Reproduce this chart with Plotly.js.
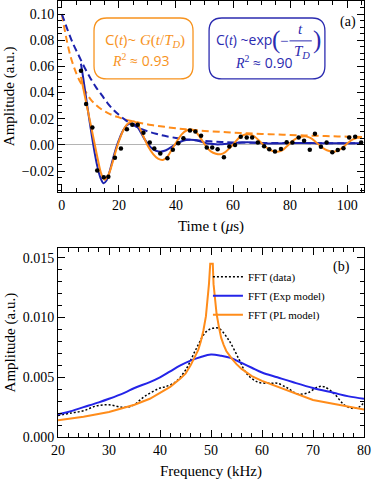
<!DOCTYPE html>
<html>
<head>
<meta charset="utf-8">
<script src="https://cdn.plot.ly/plotly-3.0.1.min.js"></script>
<style>
  body { margin: 0; background: #fff; }
  #myDiv { width: 373px; height: 480px; }
</style>
</head>
<body>
<div id="myDiv"></div>
<script>
// ---- panel (a): time domain ----
var tData = [6.7, 8.5, 10.7, 12.4, 14.7, 16.3, 18.6, 20.7, 22.8, 24.7, 26.6, 28.6, 30.8, 32.4, 34.5,
  37.0, 38.9, 40.8, 42.6, 44.9, 46.8, 48.8, 50.8, 52.7, 54.6, 56.8, 58.7, 60.7, 62.7, 64.8,
  66.7, 68.7, 70.9, 72.7, 74.7, 76.8, 78.8, 80.8, 83.0, 84.9, 86.9, 88.7, 90.8, 92.8, 94.8,
  96.7, 98.7, 100.7, 102.8, 104.9];
var ampData = [0.0567, 0.0313, 0.0132, -0.0196, -0.0247, -0.0244, -0.0099, -0.0028, 0.0120, 0.0153,
  0.0153, 0.0092, 0.0018, -0.0028, -0.0066, -0.0102, -0.0038, 0.0013, 0.0051, 0.0109,
  0.0102, 0.0069, -0.0020, -0.0020, -0.0033, -0.0094, -0.0013, 0.0000, 0.0063, 0.0056,
  0.0056, 0.0018, -0.0010, -0.0033, -0.0051, -0.0031, 0.0021, 0.0018, 0.0056, 0.0031,
  -0.0038, 0.0086, -0.0015, 0.0018, -0.0056, -0.0040, -0.0025, 0.0056, 0.0063, 0.0018];

// PL (power-law) model fit
var tPL = [6.7, 8, 9.5, 11, 12.5, 13.8, 15, 16.3, 17.7, 19, 20.2, 21.5, 23, 24.5, 25.5, 27, 28.5,
  30.2, 32, 33.7, 35.4, 37, 38.7, 40.4, 42, 43.7, 45.4, 47, 48.7, 50.5, 52.2, 54, 55.6, 57.3,
  59, 60.7, 62.3, 64, 65.6, 67.3, 69, 70.7, 72.3, 74, 75.5, 77.2, 78.9, 80.6, 82.2, 83.8,
  85.4, 87.1, 88.7, 90.4, 92.1, 93.7, 95.3, 97, 98.7, 100.4, 102, 103.6, 105.2];
var ampPL = [0.052, 0.038, 0.022, 0.006, -0.010, -0.022, -0.0267, -0.023, -0.014, -0.004, 0.004,
  0.011, 0.016, 0.0178, 0.0178, 0.014, 0.007, -0.001, -0.007, -0.0105, -0.0115, -0.009, -0.003,
  0.003, 0.008, 0.011, 0.0117, 0.0098, 0.005, -0.001, -0.005, -0.0068, -0.0072, -0.0055,
  -0.002, 0.002, 0.0058, 0.0078, 0.0082, 0.0068, 0.0035, 0.0, -0.003, -0.0048, -0.0052,
  -0.0042, -0.001, 0.0025, 0.005, 0.0062, 0.0065, 0.0053, 0.0028, -0.0005, -0.0032,
  -0.0047, -0.0052, -0.0042, -0.0015, 0.0018, 0.0042, 0.0054, 0.0057];

// exponential model fit
var tExp = [6.7, 7.5, 8.5, 9.5, 10.5, 11.5, 12.5, 13.5, 14.6, 15.7, 16.8, 18, 19.2, 20.4, 21.6,
  22.8, 24, 25.2, 26.5, 27.8, 29.1, 30.4, 31.7, 33, 34.6, 36, 37.5, 39, 40.5, 42, 43.5, 45,
  46.5, 48, 50, 52, 54, 55.5, 57, 59, 61, 63, 65, 67, 69, 71, 73, 75, 78, 82, 86, 90, 95,
  100, 105.2];
var ampExp = [0.062, 0.051, 0.036, 0.021, 0.007, -0.006, -0.017, -0.025, -0.0293, -0.027, -0.020,
  -0.010, -0.001, 0.006, 0.0115, 0.015, 0.0163, 0.016, 0.0135, 0.009, 0.004, 0.0, -0.003,
  -0.0045, -0.0052, -0.0045, -0.0028, -0.0008, 0.0012, 0.0028, 0.0037, 0.004, 0.0037, 0.003,
  0.0017, 0.0008, 0.0004, 0.0004, 0.0006, 0.001, 0.0015, 0.0019, 0.002, 0.0019, 0.0016,
  0.0013, 0.0011, 0.0011, 0.0012, 0.0014, 0.0014, 0.0013, 0.0013, 0.0013, 0.0013];

// envelopes (dashed)
var tEnvPL = [0, 1, 2, 3, 4, 5, 6, 7, 8, 10, 12, 14, 16, 18, 20, 22, 25, 28, 32, 36, 40, 45, 50,
  55, 60, 65, 70, 75, 80, 85, 90, 95, 100, 105.2];
var envPL = [0.1, 0.088, 0.077, 0.068, 0.061, 0.055, 0.050, 0.046, 0.042, 0.035, 0.0305, 0.027,
  0.0245, 0.0225, 0.021, 0.0195, 0.018, 0.0165, 0.015, 0.0138, 0.0127, 0.0116, 0.0107,
  0.010, 0.0094, 0.0089, 0.0084, 0.008, 0.0076, 0.0072, 0.0069, 0.0066, 0.0063, 0.006];
var tEnvExp = [0, 2, 4, 6, 8, 10, 12, 14, 16, 18, 20, 22, 24, 26, 28, 30, 33, 36, 40, 44, 48, 52,
  56, 60, 65, 70, 80, 90, 105.2];
var envExp = [0.1, 0.088, 0.077, 0.068, 0.059, 0.051, 0.044, 0.038, 0.032, 0.027, 0.023, 0.0195,
  0.0165, 0.014, 0.012, 0.0104, 0.0085, 0.0069, 0.0053, 0.0041, 0.0033, 0.0027, 0.0022,
  0.0019, 0.0017, 0.0015, 0.0014, 0.0013, 0.0013];

// ---- panel (b): spectra ----
var fData = [20, 22.5, 25, 27.5, 30, 32.5, 34.5, 37, 40, 41, 43, 45, 47, 49, 50.3, 51.5, 53.5,
  55.5, 57, 59.2, 61.8, 63, 65, 67, 69, 71, 72.2, 74.2, 76.1, 77.7, 79, 80];
var fftData = [0.0018, 0.0020, 0.0022, 0.0026, 0.0027, 0.0025, 0.0026, 0.0034, 0.0041, 0.0042,
  0.0046, 0.0056, 0.0073, 0.0088, 0.0091, 0.0091, 0.0081, 0.0065, 0.0053, 0.0046, 0.0045,
  0.0045, 0.0041, 0.0036, 0.0037, 0.0042, 0.0042, 0.0036, 0.0027, 0.0024, 0.0025, 0.0029];
var fExp = [20, 22, 25, 28, 30, 33, 35, 38, 40, 42, 44, 46, 48, 50, 52, 54, 56, 58, 60, 63, 66,
  70, 74, 77, 80];
var fftExp = [0.0019, 0.0021, 0.0025, 0.0029, 0.0032, 0.0037, 0.0041, 0.0046, 0.0050, 0.0055,
  0.0060, 0.0064, 0.0067, 0.0069, 0.0068, 0.0066, 0.0062, 0.0058, 0.0054, 0.0050, 0.0046,
  0.0041, 0.0037, 0.0034, 0.0032];
var fPL = [20, 25, 30, 35, 38, 40, 42, 44, 45, 46, 47, 47.5, 48, 48.5, 49, 49.3, 49.6, 49.85,
  50.35, 50.5, 50.8, 51.1, 51.6, 52, 52.5, 53, 54, 55, 56, 58, 60, 63, 66, 70, 75, 80];
var fftPL = [0.0014, 0.0017, 0.0021, 0.0027, 0.0032, 0.0037, 0.0042, 0.0049, 0.0053, 0.0060,
  0.0068, 0.0073, 0.0080, 0.0089, 0.0101, 0.0112, 0.0128, 0.0145, 0.0145, 0.0128, 0.0112,
  0.0103, 0.0091, 0.0083, 0.0077, 0.0072, 0.0066, 0.0061, 0.0057, 0.0051, 0.0047, 0.0042,
  0.0037, 0.0031, 0.0027, 0.0023];

var orange = '#ff8c1a';
var navy = '#1c22ad';
var blue = '#2424e8';

var data = [
  {x: tEnvPL, y: envPL, mode: 'lines', line: {color: orange, width: 2, dash: '7px,4px', shape: 'spline'},
   showlegend: false, hoverinfo: 'skip'},
  {x: tEnvExp, y: envExp, mode: 'lines', line: {color: navy, width: 2, dash: '7px,4px', shape: 'spline'},
   showlegend: false, hoverinfo: 'skip'},
  {x: tExp, y: ampExp, mode: 'lines', line: {color: navy, width: 2, shape: 'spline'}, showlegend: false},
  {x: tPL, y: ampPL, mode: 'lines', line: {color: orange, width: 2, shape: 'spline'}, showlegend: false},
  {x: tData, y: ampData, mode: 'markers', marker: {color: 'black', size: 4.5}, showlegend: false},

  {x: fData, y: fftData, xaxis: 'x2', yaxis: 'y2', mode: 'lines', name: 'FFT (data)',
   line: {color: 'black', width: 1.5, dash: '2px,2px', shape: 'spline'}},
  {x: fExp, y: fftExp, xaxis: 'x2', yaxis: 'y2', mode: 'lines', name: 'FFT (Exp model)',
   line: {color: blue, width: 2, shape: 'spline'}},
  {x: fPL, y: fftPL, xaxis: 'x2', yaxis: 'y2', mode: 'lines', name: 'FFT (PL model)',
   line: {color: orange, width: 2}}
];

function frame(extra) {
  var a = {
    showline: true, linecolor: 'black', linewidth: 1, mirror: 'ticks',
    ticks: 'inside', ticklen: 7, tickcolor: 'black', showgrid: false, zeroline: false,
    tickfont: {family: 'Liberation Serif', size: 14, color: 'black'},
    automargin: false
  };
  for (var k in extra) a[k] = extra[k];
  return a;
}

// rounded rectangle path in data units
function roundRect(x0, x1, y0, y1, rx, ry) {
  return 'M' + (x0 + rx) + ',' + y0 + ' L' + (x1 - rx) + ',' + y0 +
    ' Q' + x1 + ',' + y0 + ' ' + x1 + ',' + (y0 + ry) +
    ' L' + x1 + ',' + (y1 - ry) + ' Q' + x1 + ',' + y1 + ' ' + (x1 - rx) + ',' + y1 +
    ' L' + (x0 + rx) + ',' + y1 + ' Q' + x0 + ',' + y1 + ' ' + x0 + ',' + (y1 - ry) +
    ' L' + x0 + ',' + (y0 + ry) + ' Q' + x0 + ',' + y0 + ' ' + (x0 + rx) + ',' + y0 + ' Z';
}

var sans = '<span style="font-family:Open Sans">';
var boxBlue = '#2b2bb0';
var boxOrange = '#f7931e';

var layout = {
  width: 373, height: 480,
  margin: {l: 58, r: 9, t: 1, b: 43},
  paper_bgcolor: 'white', plot_bgcolor: 'white',
  font: {family: 'Liberation Serif', size: 14, color: 'black'},
  xaxis: frame({domain: [0, 1], anchor: 'y', range: [-1.35, 105.9], dtick: 20, tick0: 0,
    minor: {dtick: 5, ticklen: 4, tickcolor: 'black', ticks: 'inside'},
    title: {text: 'Time t (<i>\u03bc</i>s)', font: {size: 15}, standoff: 8}}),
  yaxis: frame({domain: [0.5626, 1], anchor: 'x', range: [-0.0358, 0.11], dtick: 0.02, tick0: 0,
    tickformat: '.2f', zeroline: true, zerolinecolor: '#b4b4b4', zerolinewidth: 1,
    minor: {dtick: 0.005, ticklen: 4, tickcolor: 'black', ticks: 'inside'},
    title: {text: 'Amplitude (a.u.)', font: {size: 15}, standoff: 3}}),
  xaxis2: frame({domain: [0, 1], anchor: 'y2', range: [20, 80], dtick: 10,
    minor: {dtick: 2, ticklen: 4, tickcolor: 'black', ticks: 'inside'},
    title: {text: 'Frequency (kHz)', font: {size: 15}, standoff: 12}}),
  yaxis2: frame({domain: [0, 0.4328], anchor: 'x2', range: [0, 0.0158], dtick: 0.005,
    tickformat: '.3f',
    minor: {dtick: 0.001, ticklen: 4, tickcolor: 'black', ticks: 'inside'},
    title: {text: 'Amplitude (a.u.)', font: {size: 15}, standoff: 3}}),
  legend: {x: 0.49, y: 0.401, xanchor: 'left', yanchor: 'top', bgcolor: 'rgba(0,0,0,0)',
    font: {family: 'Liberation Serif', size: 11}, itemwidth: 30, tracegroupgap: 0},
  shapes: [
    {type: 'path', xref: 'x', yref: 'y', path: roundRect(11.27, 45.97, 0.0504, 0.0970, 4.5, 0.0099),
     line: {color: boxOrange, width: 1.3}},
    {type: 'path', xref: 'x', yref: 'y', path: roundRect(51.6, 92.2, 0.0504, 0.0970, 4.5, 0.0099),
     line: {color: boxBlue, width: 1.3}},
    {type: 'line', xref: 'x', yref: 'y', x0: 79.8, x1: 87.6, y0: 0.0795, y1: 0.0795,
     line: {color: boxBlue, width: 1}}
  ],
  annotations: [
    {xref: 'x', yref: 'y', x: 29.2, y: 0.0803, showarrow: false,
     text: sans + 'C(</span><i>t</i>' + sans + ')~ </span><i>G</i>(<i>t</i>/<i>T</i><sub><i>D</i></sub>)',
     font: {size: 15, color: boxOrange}},
    {xref: 'x', yref: 'y', x: 27.5, y: 0.0645, showarrow: false,
     text: '<i>R</i><sup>2</sup>' + sans + ' \u2248 0.93</span>', font: {size: 14, color: boxOrange}},
    {xref: 'x', yref: 'y', x: 53.2, y: 0.0805, xanchor: 'left', showarrow: false,
     text: sans + 'C(</span><i>t</i>' + sans + ') ~exp</span>', font: {size: 14, color: boxBlue}},
    {xref: 'x', yref: 'y', x: 74.9, y: 0.0805, showarrow: false, text: '(',
     font: {family: 'Liberation Serif', size: 25, color: boxBlue}},
    {xref: 'x', yref: 'y', x: 77.9, y: 0.0792, showarrow: false, text: '\u2212',
     font: {size: 15, color: boxBlue}},
    {xref: 'x', yref: 'y', x: 83.6, y: 0.0885, showarrow: false, text: '<i>t</i>',
     font: {size: 15, color: boxBlue}},
    {xref: 'x', yref: 'y', x: 84.0, y: 0.0708, showarrow: false, text: '<i>T</i><sub><i>D</i></sub>',
     font: {size: 15, color: boxBlue}},
    {xref: 'x', yref: 'y', x: 89.6, y: 0.0805, showarrow: false, text: ')',
     font: {family: 'Liberation Serif', size: 25, color: boxBlue}},
    {xref: 'x', yref: 'y', x: 70.5, y: 0.0630, showarrow: false,
     text: '<i>R</i><sup>2</sup>' + sans + ' \u2248 0.90</span>', font: {size: 14, color: boxBlue}},
    {xref: 'x', yref: 'y', x: 100.3, y: 0.0940, showarrow: false, text: '(a)', font: {size: 14}},
    {xref: 'x2', yref: 'y2', x: 75.6, y: 0.01426, showarrow: false, text: '(b)', font: {size: 14}}
  ]
};

var plotDiv = document.getElementById('myDiv');
Plotly.newPlot(plotDiv, data, layout, {staticPlot: true});
</script>
</body>
</html>
